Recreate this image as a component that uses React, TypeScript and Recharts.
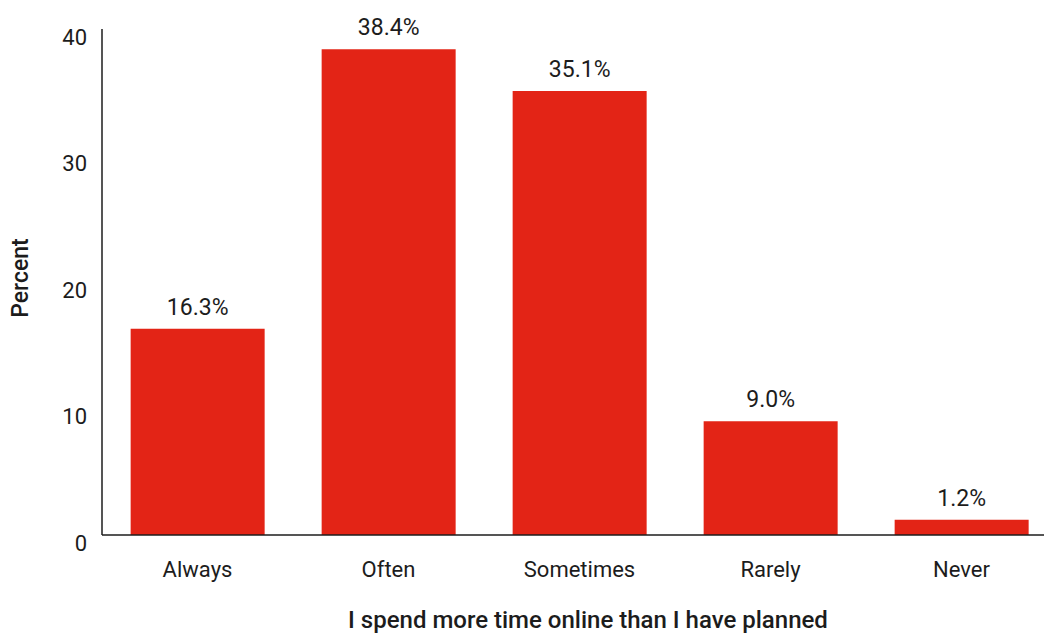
import React from 'react';
import { BarChart, Bar, XAxis, YAxis, LabelList, Label } from 'recharts';

const categories = ['Always', 'Often', 'Sometimes', 'Rarely', 'Never'];
const percents = [16.3, 38.4, 35.1, 9.0, 1.2];
const yTicks = [0, 10, 20, 30, 40];

const FONT = 'Roboto, "DejaVu Sans", sans-serif';
const RED = '#e32416';
const INK = '#1c1c1c';

const data = categories.map((name, i) => ({ name, value: percents[i] }));

// y tick labels sit a little below their value, as in the source
const YTick = (props: any) => {
  const { x, y, payload } = props;
  return (
    <text x={x} y={y + 8} textAnchor="end" dominantBaseline="central" fontFamily={FONT} fontSize={22} fill={INK}>
      {payload.value}
    </text>
  );
};

const XTick = (props: any) => {
  const { x, y, payload } = props;
  return (
    <text x={x} y={y + 34} textAnchor="middle" dominantBaseline="central" fontFamily={FONT} fontSize={22} fill={INK}>
      {payload.value}
    </text>
  );
};

const App = () => {
  return (
    <div style={{ position: 'absolute', left: 0, top: 0, width: 1044, height: 635, overflow: 'hidden', background: '#fff' }}>
      <BarChart
        width={1070}
        height={635}
        data={data}
        margin={{ top: 29, right: 13, bottom: 0, left: 0 }}
        barCategoryGap="15%"
      >
        <YAxis
          domain={[0, 40]}
          ticks={yTicks}
          width={102}
          tickLine={false}
          tickSize={0}
          tickMargin={15}
          axisLine={{ stroke: INK, strokeWidth: 1.5 }}
          tick={<YTick />}
        >
          <Label
            content={() => (
              <text
                x={20}
                y={278}
                transform="rotate(-90 20 278)"
                textAnchor="middle"
                dominantBaseline="central"
                fontFamily={FONT}
                fontSize={23}
                fontWeight={500}
                fill={INK}
              >
                Percent
              </text>
            )}
          />
        </YAxis>
        <XAxis
          dataKey="name"
          height={100}
          tickLine={false}
          tickSize={0}
          tickMargin={0}
          axisLine={{ stroke: INK, strokeWidth: 1.5 }}
          tick={<XTick />}
          interval={0}
        >
          <Label
            content={() => (
              <text
                x={588}
                y={620}
                textAnchor="middle"
                dominantBaseline="central"
                fontFamily={FONT}
                fontSize={24}
                fontWeight={500}
                fill={INK}
              >
                I spend more time online than I have planned
              </text>
            )}
          />
        </XAxis>
        <Bar dataKey="value" fill={RED} isAnimationActive={false}>
          <LabelList
            dataKey="value"
            position="top"
            offset={14}
            formatter={(v: any) => `${Number(v).toFixed(1)}%`}
            style={{ fontFamily: FONT, fontSize: 23, fontWeight: 400, fill: INK }}
          />
        </Bar>
      </BarChart>
    </div>
  );
};

export default App;
